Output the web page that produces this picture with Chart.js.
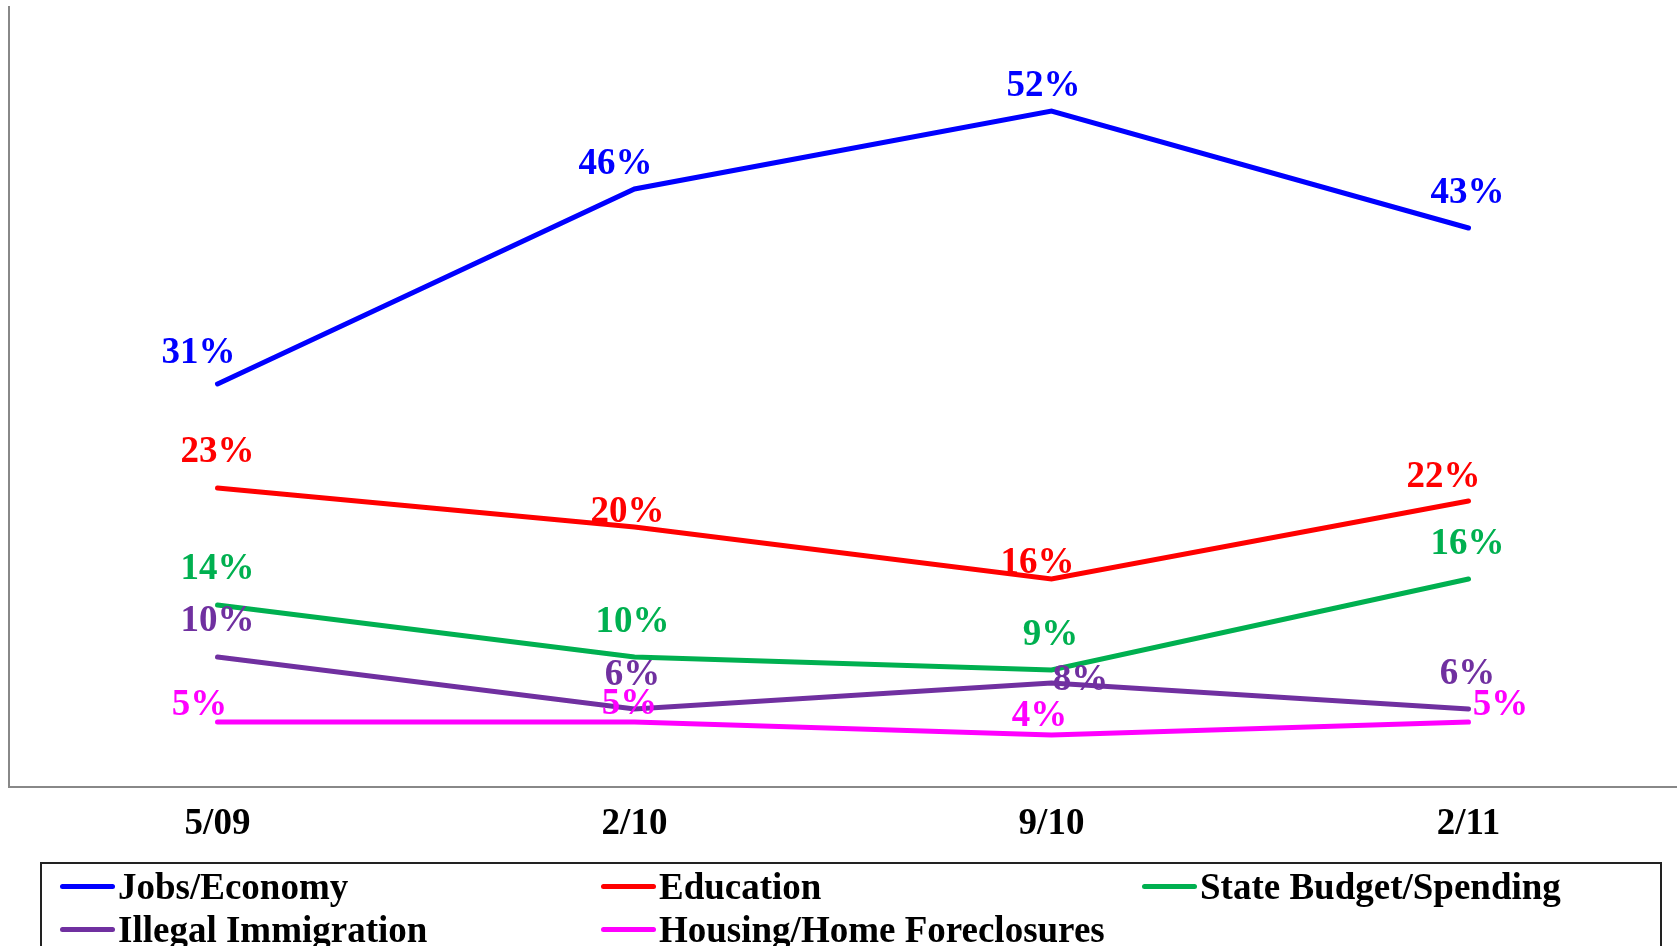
<!DOCTYPE html>
<html>
<head>
<meta charset="utf-8">
<title>Most important issue</title>
<script src="https://cdn.jsdelivr.net/npm/chart.js@4/dist/chart.umd.min.js"></script>
<style>
  html, body {
    margin: 0;
    padding: 0;
    background: #fff;
    overflow: hidden;
  }
  #wrap {
    position: relative;
    width: 1677px;
    height: 946px;
  }
  #legend {
    position: absolute;
    left: 40px;
    top: 862px;
    width: 1622px;
    height: 120px;
    border: 2px solid #222;
    box-sizing: border-box;
    padding: 1px 0 0 18px;
    display: grid;
    grid-template-columns: 541px 541px 541px;
    grid-auto-rows: 43px;
    font: bold 37px "Liberation Serif", "Times New Roman", serif;
    color: #000;
  }
  #legend div {
    display: flex;
    align-items: center;
    white-space: nowrap;
  }
  #legend span.swatch {
    display: inline-block;
    width: 55px;
    height: 5px;
    border-radius: 3px;
    margin-right: 3px;
  }
</style>
</head>
<body>
<div id="wrap">
  <canvas id="myChart" width="1677" height="946"></canvas>
  <div id="legend"></div>
</div>
<script>
'use strict';

let dates = ['5/09', '2/10', '9/10', '2/11'];

let jobsEconomy = [31, 46, 52, 43];
let education = [23, 20, 16, 22];
let stateBudget = [14, 10, 9, 16];
let illegalImmigration = [10, 6, 8, 6];
let housingForeclosures = [5, 5, 4, 5];

let seriesNames = ['Jobs/Economy', 'Education', 'State Budget/Spending', 'Illegal Immigration', 'Housing/Home Foreclosures'];
let seriesColors = ['#0000ff', '#ff0000', '#00b050', '#7030a0', '#ff00ff'];

// where each value label sits relative to its point (the original was hand placed)
let labelNudge = [
  [[-19, -31], [-19, -25], [-8, -25], [-1, -35]],
  [[0, -36], [-7, -15], [-14, -16], [-25, -24]],
  [[0, -36], [-2, -35], [-1, -35], [-1, -35]],
  [[0, -36], [-2, -34], [29, -3], [-1, -35]],
  [[-18, -17], [-5, -18], [-12, -19], [32, -17]],
];

let allSeries = [jobsEconomy, education, stateBudget, illegalImmigration, housingForeclosures];

function makeDatasets() {
  let sets = [];
  for (let i = 0; i < allSeries.length; i++) {
    sets.push({
      label: seriesNames[i],
      data: allSeries[i],
      borderColor: seriesColors[i],
      backgroundColor: seriesColors[i],
      borderWidth: 5,
      borderCapStyle: 'round',
      pointRadius: 0,
      tension: 0,
      fill: false,
    });
  }
  return sets;
}

const valueLabels = {
  id: 'valueLabels',
  afterDatasetsDraw(chart) {
    let ctx = chart.ctx;
    ctx.save();
    ctx.font = 'bold 37px "Liberation Serif", "Times New Roman", serif';
    ctx.textAlign = 'center';
    ctx.textBaseline = 'middle';
    chart.data.datasets.forEach(function (ds, i) {
      let meta = chart.getDatasetMeta(i);
      ctx.fillStyle = ds.borderColor;
      meta.data.forEach(function (pt, j) {
        let nudge = labelNudge[i][j];
        ctx.fillText(ds.data[j] + '%', pt.x + nudge[0], pt.y + nudge[1]);
      });
    });
    ctx.restore();
  }
};

function renderLegend(chart) {
  let box = document.getElementById('legend');
  chart.data.datasets.forEach(function (ds) {
    let item = document.createElement('div');
    let swatch = document.createElement('span');
    swatch.className = 'swatch';
    swatch.style.background = ds.borderColor;
    item.appendChild(swatch);
    item.appendChild(document.createTextNode(ds.label));
    box.appendChild(item);
  });
}

const config = {
  type: 'line',
  data: {
    labels: dates,
    datasets: makeDatasets(),
  },
  options: {
    responsive: false,
    animation: false,
    devicePixelRatio: 1,
    layout: {
      padding: { top: 7, right: 0, bottom: 0, left: 0 },
    },
    plugins: {
      legend: { display: false },
      tooltip: { enabled: false },
    },
    scales: {
      x: {
        offset: true,
        grid: { display: false, drawTicks: false },
        border: { display: true, color: '#888', width: 2 },
        ticks: {
          color: '#000',
          padding: 15,
          font: { family: '"Liberation Serif", "Times New Roman", serif', size: 37, weight: 'bold' },
        },
        afterFit: function (scale) {
          scale.height = 159;
        },
      },
      y: {
        min: 0,
        max: 60,
        grid: { display: false, drawTicks: false },
        border: { display: true, color: '#888', width: 2 },
        ticks: { display: false },
        afterFit: function (scale) {
          scale.width = 9;
        },
      },
    },
  },
  plugins: [valueLabels],
};

let chartCanvas = document.getElementById('myChart').getContext('2d');
const myChart = new Chart(chartCanvas, config);
renderLegend(myChart);
</script>
</body>
</html>
